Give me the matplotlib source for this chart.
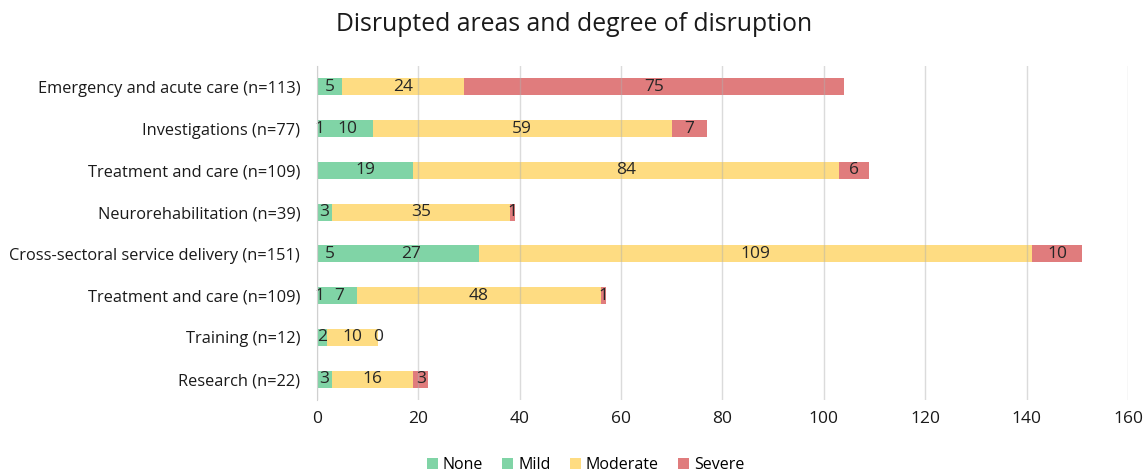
import matplotlib.pyplot as plt
import numpy as np

plt.rcParams['font.family'] = ['Open Sans', 'DejaVu Sans']

categorias = ['Emergency and acute care (n=113)', 'Investigations (n=77)', 'Treatment and care (n=109)',
              'Neurorehabilitation (n=39)', 'Cross-sectoral service delivery (n=151)',
              'Treatment and care (n=109)', 'Training (n=12)', 'Research (n=22)']
none_vals = [np.nan, 1, np.nan, np.nan, 5, 1, np.nan, np.nan]
mild_vals = [5, 10, 19, 3, 27, 7, 2, 3]
moderate_vals = [24, 59, 84, 35, 109, 48, 10, 16]
severe_vals = [75, 7, 6, 1, 10, 1, 0, 3]

series = [('None', none_vals, '#80d4a6'),
          ('Mild', mild_vals, '#80d4a6'),
          ('Moderate', moderate_vals, '#fedc82'),
          ('Severe', severe_vals, '#e07c7d')]

fig = plt.figure(figsize=(11.48, 4.74), dpi=100)
ax = fig.add_axes([0.276, 0.156, 0.7066, 0.705])

y = np.arange(len(categorias))
left = np.zeros(len(categorias))
for nome, vals, cor in series:
    v = np.array(vals, dtype=float)
    w = np.nan_to_num(v)
    ax.barh(y, w, left=left, height=0.41, color=cor, label=nome, zorder=1)
    # rotulos dos valores no meio de cada segmento
    for i, val in enumerate(v):
        if np.isnan(val):
            continue
        ax.text(left[i] + w[i] / 2, y[i], f'{int(val)}', ha='center', va='center',
                fontsize=12.5, color='#262626', zorder=4)
    left += w

ax.set_yticks(y)
ax.set_yticklabels(categorias, fontsize=11.8, color='#1a1a1a')
ax.set_ylim(len(categorias) - 0.5, -0.5)
ax.set_xlim(0, 160)
ax.set_xticks(np.arange(0, 161, 20))
ax.tick_params(axis='x', labelsize=12.5, colors='#1a1a1a', length=0, pad=8)
ax.tick_params(axis='y', length=0, pad=12)
# grade por cima das barras, bem clarinha
ax.set_axisbelow(False)
ax.grid(axis='x', color='#b0b0b0', alpha=0.45, linewidth=1, zorder=3)
for s in ['top', 'right', 'bottom']:
    ax.spines[s].set_visible(False)
ax.spines['left'].set_color('#d0d0d0')
ax.spines['left'].set_zorder(4)

fig.suptitle('Disrupted areas and degree of disruption', fontsize=17.8, y=0.975, color='#1a1a1a')
fig.legend(loc='lower center', bbox_to_anchor=(0.51, -0.028), ncol=4, frameon=False,
           fontsize=11.5, handlelength=0.7, handleheight=0.7, handletextpad=0.3, columnspacing=1.2)

fig.savefig('out.png', dpi=100)
